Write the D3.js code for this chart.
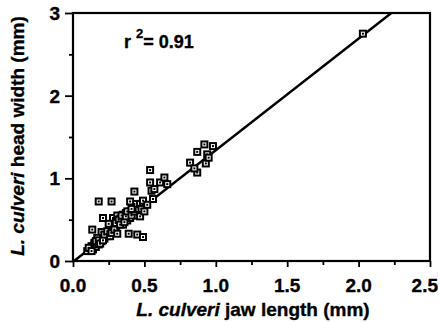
<!DOCTYPE html>
<html>
<head>
<meta charset="utf-8">
<script src="https://cdn.jsdelivr.net/npm/d3@7"></script>
<style>
  body { margin: 0; background: #fff; }
  svg { display: block; font-family: "Liberation Sans", Arial, sans-serif; font-weight: bold; }
  text { stroke: #000; stroke-width: 0.35; }
</style>
</head>
<body>
<div class="chart"></div>
<script>
// jaw length (mm) vs head width (mm)
const jawLength = [
  0.12, 0.13, 0.14, 0.15, 0.16, 0.17, 0.18, 0.19, 0.20, 0.21, 0.22, 0.23, 0.24, 0.25,
  0.26, 0.27, 0.28, 0.29, 0.30, 0.31, 0.32, 0.33, 0.34, 0.35, 0.36, 0.37, 0.38, 0.39,
  0.40, 0.42, 0.44, 0.28, 0.31, 0.25, 0.35, 0.40, 0.45, 0.20, 0.17,
  0.10, 0.11, 0.13, 0.15, 0.16, 0.18, 0.19, 0.21, 0.22, 0.24, 0.26, 0.27, 0.29, 0.30,
  0.32, 0.33, 0.34, 0.36, 0.37, 0.38, 0.41, 0.43, 0.44, 0.46,
  0.43, 0.47, 0.41, 0.48, 0.49, 0.56, 0.55, 0.57, 0.61, 0.66, 0.54, 0.64, 0.54, 0.43,
  0.40, 0.27, 0.18, 0.21, 0.135, 0.31, 0.39, 0.45, 0.49, 0.47, 0.50, 0.52,
  0.92, 0.98, 0.87, 0.94, 0.82, 0.93, 0.87, 0.85, 0.95, 2.03
];
const headWidth = [
  0.15, 0.18, 0.14, 0.20, 0.17, 0.23, 0.20, 0.26, 0.24, 0.30, 0.27, 0.33, 0.30, 0.36,
  0.34, 0.40, 0.37, 0.44, 0.41, 0.48, 0.45, 0.53, 0.50, 0.56, 0.52, 0.58, 0.49, 0.56,
  0.60, 0.58, 0.62, 0.52, 0.55, 0.45, 0.44, 0.52, 0.55, 0.35, 0.28,
  0.12, 0.16, 0.12, 0.22, 0.24, 0.25, 0.21, 0.25, 0.32, 0.36, 0.30, 0.34, 0.38, 0.46,
  0.50, 0.44, 0.55, 0.47, 0.54, 0.60, 0.55, 0.60, 0.66, 0.63,
  0.69, 0.69, 0.63, 0.63, 0.73, 0.75, 0.85, 0.87, 0.95, 0.93, 0.95, 1.01, 1.10, 0.84,
  0.72, 0.72, 0.72, 0.52, 0.38, 0.33, 0.33, 0.32, 0.29, 0.54, 0.60, 0.68,
  1.41, 1.39, 1.32, 1.29, 1.19, 1.18, 1.07, 1.12, 1.25, 2.75
];
const fitLine = [-0.01, 1.35]; // intercept, slope
const rSquared = "0.91";
const xTicks = [0, 0.5, 1.0, 1.5, 2.0, 2.5];
const yTicks = [0, 1, 2, 3];

const width = 439;
const height = 322;
const margin = {top: 13, right: 9, bottom: 61, left: 73};

const svg = d3.select("div.chart")
    .append("svg")
    .attr("width", width)
    .attr("height", height);

const x = d3.scaleLinear().domain([0, 2.5]).range([margin.left, width - margin.right]);
const y = d3.scaleLinear().domain([0, 3]).range([height - margin.bottom, margin.top]);

const points = jawLength.map(function(d, i) { return {x: d, y: headWidth[i]}; });

// regression line, clipped at the top of the frame
const xEnd = Math.min(2.5, (3 - fitLine[0]) / fitLine[1]);
const xStart = Math.max(0, -fitLine[0] / fitLine[1]);
svg.append("line")
    .attr("x1", x(xStart)).attr("y1", y(fitLine[0] + fitLine[1] * xStart))
    .attr("x2", x(xEnd)).attr("y2", y(fitLine[0] + fitLine[1] * xEnd))
    .attr("stroke", "#000")
    .attr("stroke-width", 2.4);

// markers: square with a dot in the middle
const marks = svg.append("g")
    .selectAll("g")
    .data(points)
    .enter()
    .append("g")
    .attr("transform", function(d) { return "translate(" + x(d.x) + "," + y(d.y) + ")"; });
marks.append("rect")
    .attr("x", -3).attr("y", -3).attr("width", 6).attr("height", 6)
    .attr("fill", "#fff").attr("stroke", "#000").attr("stroke-width", 2);
marks.append("rect")
    .attr("x", -1).attr("y", -1).attr("width", 2).attr("height", 2)
    .attr("fill", "#000");

// frame
svg.append("rect")
    .attr("x", margin.left).attr("y", margin.top)
    .attr("width", width - margin.left - margin.right)
    .attr("height", height - margin.top - margin.bottom)
    .attr("fill", "none").attr("stroke", "#000").attr("stroke-width", 2.2);

// x axis
const xAxis = svg.append("g")
    .attr("transform", "translate(0," + (height - margin.bottom) + ")")
    .call(d3.axisBottom(x).tickValues(d3.range(0, 2.51, 0.25)).tickSize(4).tickFormat(""));
xAxis.select(".domain").remove();
xAxis.selectAll(".tick line").attr("stroke-width", 1.8);
xAxis.selectAll(".tick")
    .filter(function(d) { return xTicks.some(function(t) { return Math.abs(t - d) < 1e-6; }); })
    .select("line").attr("y2", 6);
xTicks.forEach(function(t, i) {
    const last = i === xTicks.length - 1;
    svg.append("text")
        .attr("x", last ? width - 1 : x(t)).attr("y", height - margin.bottom + 31)
        .attr("text-anchor", last ? "end" : "middle")
        .attr("font-size", 19)
        .text(d3.format(".1f")(t));
});

// y axis
const yAxis = svg.append("g")
    .attr("transform", "translate(" + margin.left + ",0)")
    .call(d3.axisLeft(y).tickValues(d3.range(0, 3.01, 0.5)).tickSize(4).tickFormat(""));
yAxis.select(".domain").remove();
yAxis.selectAll(".tick line").attr("stroke-width", 1.8);
yAxis.selectAll(".tick")
    .filter(function(d) { return yTicks.indexOf(d) >= 0; })
    .select("line").attr("x2", -8);
yTicks.forEach(function(t) {
    svg.append("text")
        .attr("x", margin.left - 13).attr("y", y(t) + 7)
        .attr("text-anchor", "end")
        .attr("font-size", 19)
        .text(t);
});

// axis titles
const xTitle = svg.append("text")
    .attr("x", (133 + 373) / 2).attr("y", 316)
    .attr("text-anchor", "middle")
    .attr("font-size", 19);
xTitle.append("tspan").attr("font-style", "italic").text("L. culveri");
xTitle.append("tspan").text(" jaw length (mm)");

const yTitle = svg.append("text")
    .attr("transform", "translate(24," + 136 + ") rotate(-90)")
    .attr("text-anchor", "middle")
    .attr("font-size", 19);
yTitle.append("tspan").attr("font-style", "italic").text("L. culveri");
yTitle.append("tspan").text(" head width (mm)");

// r squared annotation
const rText = svg.append("text")
    .attr("x", 124).attr("y", 48)
    .attr("font-size", 18);
rText.append("tspan").text("r");
rText.append("tspan").attr("dy", -10).attr("dx", 5).attr("font-size", 13).text("2");
rText.append("tspan").attr("dy", 10).text("= " + rSquared);
</script>
</body>
</html>
